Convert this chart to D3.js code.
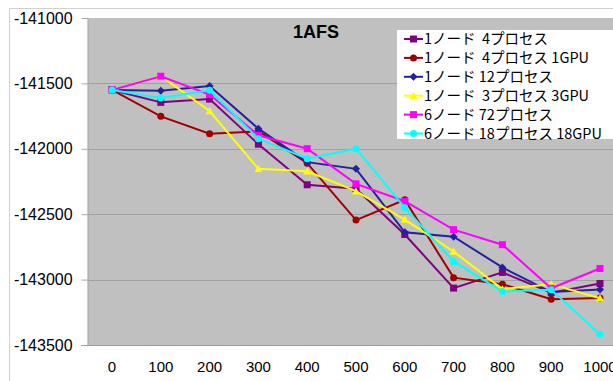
<!DOCTYPE html>
<html><head><meta charset="utf-8">
<script src="https://cdn.jsdelivr.net/npm/d3@7"></script>
<style>html,body{margin:0;padding:0;background:#fff;overflow:hidden}</style>
</head><body>
<svg id="chart" width="613" height="381"></svg>
<script>
const categories = [0,100,200,300,400,500,600,700,800,900,1000];
const yTicks = [-141000,-141500,-142000,-142500,-143000,-143500];
const seriesNames = ["1ノード\u00a0\u00a04プロセス","1ノード\u00a0\u00a04プロセス 1GPU","1ノード 12プロセス","1ノード\u00a0\u00a03プロセス 3GPU","6ノード 72プロセス","6ノード 18プロセス 18GPU"];
const s1 = [-141550,-141645,-141620,-141965,-142275,-142305,-142655,-143065,-142945,-143100,-143030];
const s2 = [-141550,-141752,-141885,-141866,-142110,-142545,-142390,-142985,-143035,-143150,-143140];
const s3 = [-141550,-141557,-141520,-141846,-142102,-142153,-142638,-142672,-142907,-143095,-143075];
const s4 = [-141550,-141445,-141711,-142153,-142172,-142324,-142541,-142785,-143073,-143035,-143142];
const s5 = [-141550,-141445,-141585,-141897,-141999,-142268,-142401,-142618,-142733,-143066,-142915];
const s6 = [-141550,-141611,-141552,-141923,-142076,-141999,-142450,-142861,-143091,-143078,-143418];
const seriesValues = [s1,s2,s3,s4,s5,s6];
const colors = ["#800080","#a00000","#2222a0","#ffff00","#ff00ff","#00ffff"];
const shapes = ["square","circle","diamond","triangle","square","circle"];

const svg = d3.select("#chart");
const plot = {left:87.6, top:18, bottom:345};
const bandW = 48.8;
const x = d3.scaleBand().domain(categories).range([plot.left, plot.left + bandW*categories.length]);
const y = d3.scaleLinear().domain([-141000,-143500]).range([plot.top, plot.bottom]);

// chart border
svg.append("rect").attr("x",9.5).attr("y",8.5).attr("width",620).attr("height",380)
  .attr("fill","#fff").attr("stroke","#d0d0d0");

// plot area
svg.append("rect").attr("x",plot.left).attr("y",plot.top)
  .attr("width",bandW*categories.length).attr("height",plot.bottom-plot.top).attr("fill","#c0c0c0");

// gridlines
svg.append("g").selectAll("line").data(yTicks.slice(1,-1)).join("line")
  .attr("x1",plot.left).attr("x2",640).attr("y1",d=>Math.round(y(d))+0.5).attr("y2",d=>Math.round(y(d))+0.5)
  .attr("stroke","#a0a0a0").attr("stroke-width",1.2);

// y axis
const yAxis = d3.axisLeft(y).tickValues(yTicks).tickSize(6).tickPadding(9).tickFormat(d=>String(d));
const gy = svg.append("g").attr("transform",`translate(${plot.left},0)`).call(yAxis);
gy.select(".domain").attr("stroke","#a8a8a8");
gy.selectAll(".tick line").attr("stroke","#a8a8a8");
gy.selectAll("text").attr("font-family","'Liberation Sans', Arial, sans-serif").attr("font-size",16).attr("fill","#000");

// x axis
const xAxis = d3.axisBottom(x).tickSize(0).tickPadding(16);
const gx = svg.append("g").attr("transform",`translate(0,${plot.bottom})`).call(xAxis);
gx.select(".domain").attr("d",`M81,0.5H640`).attr("stroke","#a0a0a0");
gx.selectAll("text").attr("font-family","'Liberation Sans', Arial, sans-serif").attr("font-size",15).attr("fill","#000");

// title
svg.append("text").attr("x",316).attr("y",38).attr("text-anchor","middle")
  .attr("font-family","'Liberation Sans', Arial, sans-serif").attr("font-weight","bold").attr("font-size",18).text("1AFS");

function marker(sel, shape, color, size){
  if(shape==="square"){
    sel.append("rect").attr("x",-size/2).attr("y",-size/2).attr("width",size).attr("height",size).attr("fill",color);
  } else if(shape==="circle"){
    sel.append("circle").attr("r",size/2).attr("fill",color);
  } else if(shape==="diamond"){
    const s=size/2+0.5;
    sel.append("path").attr("d",`M0,${-s}L${s},0L0,${s}L${-s},0Z`).attr("fill",color);
  } else {
    const s=size/2+0.5;
    sel.append("path").attr("d",`M0,${-s}L${s},${s*0.8}L${-s},${s*0.8}Z`).attr("fill",color);
  }
}

const cx = d=>x(d)+x.bandwidth()/2;
const line = d3.line().x((d,i)=>cx(categories[i])).y(d=>y(d));
const clip = svg.append("g");
seriesValues.forEach((vals,k)=>{
  const g = clip.append("g");
  g.append("path").attr("d",line(vals)).attr("fill","none").attr("stroke",colors[k]).attr("stroke-width",2);
  vals.forEach((v,i)=>{
    const m = g.append("g").attr("transform",`translate(${cx(categories[i])},${y(v)})`);
    marker(m, shapes[k], colors[k], shapes[k]==="circle"?7:7);
  });
});

// legend
const lg = svg.append("g");
lg.append("rect").attr("x",397).attr("y",30).attr("width",230).attr("height",109).attr("fill","#fff");
seriesNames.forEach((name,k)=>{
  const yy = 39 + k*18.9;
  lg.append("line").attr("x1",404).attr("x2",423).attr("y1",yy).attr("y2",yy).attr("stroke",colors[k]).attr("stroke-width",2);
  const m = lg.append("g").attr("transform",`translate(413.5,${yy})`);
  marker(m, shapes[k], colors[k], 7);
  lg.append("text").attr("x",424).attr("y",yy+5).attr("font-family","'Noto Sans CJK JP', sans-serif")
    .attr("font-size",14.5).attr("fill","#000").style("white-space","pre").text(name);
});
</script>
</body></html>
